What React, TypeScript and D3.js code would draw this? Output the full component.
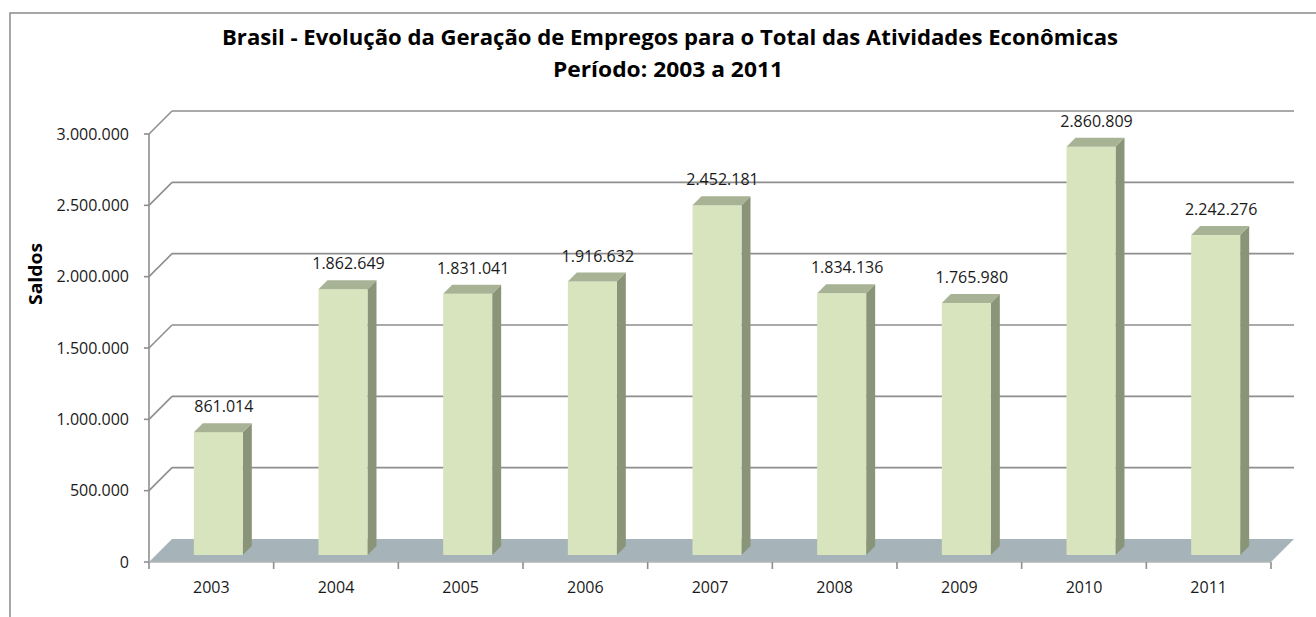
import React from "react";
import * as d3 from "d3";

const years = ["2003", "2004", "2005", "2006", "2007", "2008", "2009", "2010", "2011"];
const saldos = [861014, 1862649, 1831041, 1916632, 2452181, 1834136, 1765980, 2860809, 2242276];
const yTicks = [0, 500000, 1000000, 1500000, 2000000, 2500000, 3000000];

const W = 1316;
const H = 617;
const DEPTH = 23; // wall depth in px (dx = +d, dy = -d)
const BAR_D0 = 7; // bar front depth
const BAR_D1 = 16; // bar back depth

const ptBR = d3.formatLocale({ decimal: ",", thousands: ".", grouping: [3], currency: ["R$", ""] });
const fmt = ptBR.format(",d");

const FONT = "'Open Sans', 'DejaVu Sans', sans-serif";

export default function App() {
  const x = d3.scaleBand<string>().domain(years).range([149, 1271]).paddingInner(0.607).paddingOuter(0.3035);
  const y = d3.scaleLinear().domain([0, 3000000]).range([562, 134]);
  const step = x.step();
  const x0 = x.range()[0];
  const x1 = x.range()[1];
  const bw = x.bandwidth();
  const bd = BAR_D1 - BAR_D0;

  const pts = (arr: [number, number][]) => arr.map((p) => p.join(",")).join(" ");

  return (
    <svg width={W} height={H} style={{ position: "absolute", left: 0, top: 0, background: "#fff" }}>
      {/* chart border */}
      <rect x={10} y={13} width={W + 20} height={H + 20} fill="#fff" stroke="#8a8a8a" strokeWidth={1.5} />

      {/* title */}
      <text x={670} y={45} textAnchor="middle" fontFamily={FONT} fontWeight="bold" fontSize={22} fill="#000"
        textLength={896} lengthAdjust="spacingAndGlyphs">
        Brasil - Evolução da Geração de Empregos para o Total das Atividades Econômicas
      </text>
      <text x={668} y={77} textAnchor="middle" fontFamily={FONT} fontWeight="bold" fontSize={22} fill="#000"
        textLength={230} lengthAdjust="spacingAndGlyphs">
        Período: 2003 a 2011
      </text>

      {/* y title */}
      <text transform={`translate(42,274) rotate(-90)`} textAnchor="middle" fontFamily={FONT} fontWeight="bold"
        fontSize={18} fill="#000" textLength={62} lengthAdjust="spacingAndGlyphs">
        Saldos
      </text>

      {/* back wall gridlines and left wall diagonals */}
      {yTicks.filter((t) => t > 0).map((t) => (
        <g key={t} stroke="#8e8e8e" strokeWidth={1.6} fill="none">
          <line x1={x0 + DEPTH} x2={x1 + DEPTH} y1={y(t) - DEPTH} y2={y(t) - DEPTH} />
          <line x1={x0} x2={x0 + DEPTH} y1={y(t)} y2={y(t) - DEPTH} />
        </g>
      ))}

      {/* floor */}
      <polygon
        points={pts([[x0, y(0)], [x1, y(0)], [x1 + DEPTH, y(0) - DEPTH], [x0 + DEPTH, y(0) - DEPTH]])}
        fill="#a6b4b9"
      />

      {/* left axis */}
      <line x1={x0} x2={x0} y1={y(3000000)} y2={y(0)} stroke="#8e8e8e" strokeWidth={1.6} />
      {yTicks.map((t) => (
        <g key={t}>
          <line x1={x0 - 5} x2={x0} y1={y(t)} y2={y(t)} stroke="#8e8e8e" strokeWidth={1.6} />
          <text x={129} y={y(t)} dy="0.35em" textAnchor="end" fontFamily={FONT} fontSize={16} fill="#1a1a1a">
            {fmt(t)}
          </text>
        </g>
      ))}

      {/* bottom axis */}
      <line x1={x0} x2={x1} y1={y(0)} y2={y(0)} stroke="#b4b4b4" strokeWidth={1.6} />
      {d3.range(years.length + 1).map((i) => (
        <line key={i} x1={x0 + i * step} x2={x0 + i * step} y1={y(0)} y2={y(0) + 7} stroke="#8e8e8e" strokeWidth={1.6} />
      ))}
      {years.map((yr) => (
        <text key={yr} x={(x(yr) as number) + bw / 2} y={593} textAnchor="middle" fontFamily={FONT} fontSize={16} fill="#1a1a1a">
          {yr}
        </text>
      ))}

      {/* bars */}
      {years.map((yr, i) => {
        const v = saldos[i];
        const bx = (x(yr) as number) + BAR_D0;
        const by0 = y(0) - BAR_D0;
        const byt = y(v) - BAR_D0;
        return (
          <g key={yr}>
            <polygon
              points={pts([[bx + bw, byt], [bx + bw + bd, byt - bd], [bx + bw + bd, by0 - bd], [bx + bw, by0]])}
              fill="#8a9479"
            />
            <rect x={bx} y={byt} width={bw} height={by0 - byt} fill="#d8e4bd" />
            <polygon
              points={pts([[bx, byt], [bx + bw, byt], [bx + bw + bd, byt - bd], [bx + bd, byt - bd]])}
              fill="#a8b294"
            />
            <text x={bx + bw / 2 + bd / 2 + 1} y={byt - bd - 11} textAnchor="middle" fontFamily={FONT} fontSize={16} fill="#1a1a1a">
              {fmt(v)}
            </text>
          </g>
        );
      })}
    </svg>
  );
}
